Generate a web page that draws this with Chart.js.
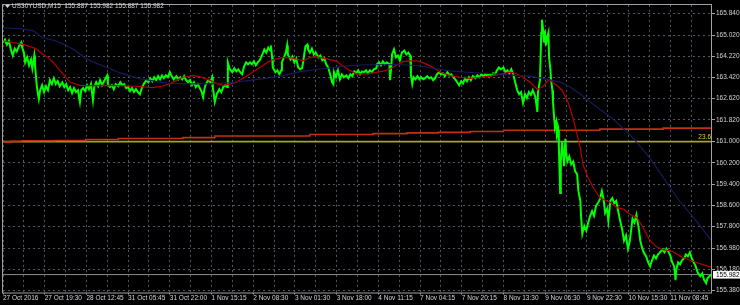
<!DOCTYPE html>
<html><head><meta charset="utf-8">
<style>html,body{margin:0;padding:0;background:#000;}#wrap{width:740px;height:305px;}</style>
<script src="https://cdn.jsdelivr.net/npm/chart.js@4.4.0/dist/chart.umd.min.js"></script>
</head><body><div id="wrap"><canvas id="c" width="740" height="305"></canvas></div>
<script>
// ---- data ----
const symbolTitle = 'US30YUSD,M15';
const ohlcText = '155.887 155.982 155.887 155.982';
const timeLabels = ['27 Oct 2016','27 Oct 19:30','28 Oct 12:45','31 Oct 05:45','31 Oct 22:00','1 Nov 15:15','2 Nov 08:30','3 Nov 01:30','3 Nov 18:00','4 Nov 11:15','7 Nov 04:15','7 Nov 20:15','8 Nov 13:30','9 Nov 06:30','9 Nov 22:30','10 Nov 15:30','11 Nov 08:45'];
const barsPerLabel = 64;
const barsPerGrid = 32;
const totalBars = 1088;
const priceTicks = [165.84,165.02,164.22,163.42,162.62,161.82,161.00,160.20,159.40,158.60,157.80,156.98,156.18,155.38];
const priceMin = 155.305, priceMax = 166.16;
const lastPrice = 155.982;
const fibLevel = 161.0;
const fibLabel = '23.6';

// close prices [bar, price]
const closeSeries = [
[0,164.74],[3,164.85],[6,164.66],[9,164.81],[12,164.48],[15,164.25],[18,164.51],[21,164.40],[25,164.63],[28,164.74],
[29,164.59],[32,164.36],[34,163.99],[37,164.18],[40,163.88],[43,164.10],[45,163.77],[48,164.25],[49,163.92],[52,163.06],
[55,162.61],[57,162.94],[60,163.13],[63,162.87],[66,163.09],[69,162.94],[72,163.32],[75,163.17],[78,163.39],[81,163.17],
[84,163.28],[87,163.09],[91,163.24],[94,163.06],[97,163.17],[100,162.94],[103,163.06],[106,162.83],[109,163.02],[112,162.87],
[115,162.94],[118,162.50],[120,162.94],[123,163.02],[126,162.91],[129,163.13],[132,162.98],[135,163.17],[138,162.57],[140,163.06],
[143,163.24],[146,163.09],[149,163.32],[152,163.13],[155,163.28],[160,163.50],[161,163.17],[164,163.06],[167,163.13],[170,162.98],
[173,163.17],[177,163.09],[180,163.24],[183,163.13],[186,163.17],[189,163.02],[192,163.06],[195,162.91],[198,163.02],[201,162.87],
[204,162.98],[207,162.87],[210,162.79],[213,163.02],[216,163.17],[220,163.32],[223,163.24],[226,163.39],[229,163.28],[232,163.43],
[235,163.32],[238,163.47],[241,163.35],[244,163.50],[247,163.39],[250,163.50],[253,163.43],[256,163.62],[259,163.47],[262,163.35],
[266,163.47],[269,163.35],[272,163.43],[275,163.35],[278,163.47],[281,163.32],[284,163.24],[287,163.32],[290,163.13],[293,163.24],
[296,163.06],[299,163.17],[302,163.02],[305,162.87],[307,162.68],[310,163.09],[313,163.24],[315,163.32],[318,163.24],[321,163.43],
[322,163.06],[325,162.50],[328,162.79],[332,162.98],[335,162.87],[338,163.06],[341,163.13],[344,163.06],[345,163.99],[348,163.73],
[352,163.62],[355,163.77],[358,163.65],[361,163.73],[364,163.62],[367,163.54],[370,163.84],[373,163.99],[376,163.92],[379,163.99],
[382,163.92],[385,164.03],[388,163.88],[391,163.99],[394,164.07],[398,164.29],[401,164.48],[404,164.36],[407,164.55],[410,164.44],
[411,164.63],[413,164.18],[414,163.80],[418,163.62],[421,163.69],[424,163.54],[427,163.69],[428,163.99],[431,164.18],[434,164.36],
[436,164.63],[437,164.29],[441,164.10],[444,164.21],[447,163.99],[450,164.14],[453,163.80],[456,163.73],[459,163.77],[461,164.07],
[464,164.59],[467,164.66],[468,164.48],[471,164.36],[474,164.51],[477,164.29],[480,164.36],[484,164.18],[487,164.25],[490,164.07],
[493,164.14],[496,163.92],[499,163.80],[502,163.54],[505,163.24],[507,163.17],[508,163.62],[511,163.43],[514,163.69],[517,163.35],
[520,163.54],[523,163.43],[527,163.50],[530,163.39],[533,163.54],[536,163.47],[539,163.65],[542,163.58],[545,163.69],[548,163.54],
[551,163.65],[554,163.62],[557,163.69],[560,163.58],[563,163.69],[566,163.62],[569,163.73],[573,163.77],[574,163.92],[577,163.99],
[580,163.88],[583,164.03],[586,163.92],[589,163.99],[593,163.92],[594,163.32],[596,163.88],[597,164.29],[600,164.48],[603,164.18],
[606,164.25],[609,164.07],[612,164.36],[616,164.44],[619,164.29],[622,164.36],[625,164.25],[626,163.50],[628,163.17],[630,163.43],
[633,163.35],[636,163.47],[639,163.35],[642,163.43],[645,163.35],[648,163.39],[651,163.47],[654,163.39],[657,163.43],[660,163.32],
[663,163.39],[666,163.54],[669,163.62],[672,163.54],[675,163.58],[678,163.47],[682,163.62],[685,163.50],[688,163.54],[691,163.43],
[694,163.35],[697,163.24],[700,163.13],[703,163.28],[706,163.20],[709,163.39],[712,163.28],[715,163.43],[718,163.32],[721,163.47],
[725,163.39],[728,163.50],[731,163.43],[734,163.54],[737,163.47],[740,163.54],[743,163.50],[746,163.54],[749,163.50],[752,163.58],
[755,163.54],[758,163.69],[761,163.80],[764,163.73],[768,163.80],[771,163.62],[774,163.69],[777,163.58],[780,163.73],[783,163.54],
[786,163.24],[789,162.94],[792,162.79],[795,162.87],[798,162.46],[801,162.79],[804,162.64],[807,162.87],[810,162.76],[813,162.94],
[817,162.68],[820,162.12],[821,162.87],[824,163.32],[826,165.11],[827,165.60],[829,165.19],[830,164.74],[832,165.00],[833,164.63],
[835,164.92],[837,165.11],[838,164.18],[840,163.73],[841,163.35],[843,162.94],[844,162.50],[846,161.82],[847,161.56],[849,161.75],
[850,161.26],[852,161.45],[853,160.81],[855,159.06],[856,160.25],[858,161.00],[860,160.44],[861,160.07],[863,161.11],[864,160.63],
[866,160.25],[869,160.44],[872,160.14],[875,160.25],[878,159.88],[881,159.77],[883,159.13],[886,158.76],[887,158.20],[889,157.52],
[892,157.82],[895,157.64],[898,157.94],[901,158.20],[904,158.38],[907,158.20],[910,158.57],[913,158.68],[916,158.83],[919,159.13],
[922,158.76],[924,158.31],[927,158.46],[929,158.01],[932,158.76],[935,158.87],[938,158.68],[941,158.76],[944,158.38],[947,158.01],
[950,157.71],[953,157.26],[956,157.45],[959,156.96],[962,157.26],[966,158.09],[969,157.94],[972,158.24],[975,157.82],[978,157.26],
[981,156.96],[984,156.78],[987,156.67],[990,156.44],[993,156.29],[996,156.52],[999,156.70],[1002,156.59],[1005,156.74],[1008,156.82],
[1012,156.93],[1015,156.82],[1018,156.96],[1021,156.85],[1024,156.70],[1027,156.44],[1030,156.29],[1032,155.77],[1033,156.14],[1036,156.44],
[1039,156.37],[1042,156.52],[1045,156.59],[1048,156.74],[1051,156.67],[1054,156.82],[1057,156.59],[1060,156.44],[1063,156.29],[1066,156.07],
[1070,155.92],[1073,156.03],[1076,155.77],[1079,155.66],[1081,155.84],[1084,155.92],[1087,155.98]
];

// red moving average [bar, price]
const fastMA = [
[0,164.80],[15,164.74],[31,164.67],[41,164.59],[51,164.49],[61,164.30],[69,164.18],[77,163.99],[87,163.69],[95,163.47],
[103,163.24],[118,163.12],[134,163.11],[154,163.12],[180,163.11],[204,163.09],[230,163.04],[244,163.09],[256,163.18],[267,163.32],
[276,163.43],[292,163.49],[302,163.45],[318,163.31],[330,163.17],[338,163.12],[348,163.17],[358,163.24],[371,163.43],[379,163.55],
[390,163.73],[399,163.87],[407,164.01],[414,164.09],[430,164.18],[445,164.15],[453,164.10],[460,164.05],[467,164.12],[471,164.18],
[482,164.20],[497,164.12],[513,164.02],[520,163.88],[528,163.74],[536,163.64],[543,163.55],[559,163.56],[574,163.62],[585,163.67],
[594,163.74],[605,163.90],[614,164.02],[625,164.05],[635,164.05],[645,163.97],[655,163.87],[663,163.75],[671,163.62],[686,163.49],
[701,163.43],[717,163.39],[732,163.43],[748,163.47],[763,163.55],[778,163.62],[786,163.58],[798,163.43],[809,163.24],[820,162.97],
[829,163.09],[838,163.34],[850,163.12],[858,162.93],[867,162.50],[875,161.87],[881,161.26],[886,160.75],[890,160.14],[898,159.63],
[906,159.26],[916,158.88],[932,158.70],[942,158.51],[952,158.45],[962,158.26],[973,158.13],[982,157.76],[993,157.26],[1004,157.01],
[1013,156.92],[1027,156.86],[1042,156.64],[1055,156.52],[1070,156.39],[1087,156.26]
];

// dark blue moving average [bar, price]
const slowMA = [
[0,165.30],[26,165.26],[46,165.19],[61,164.92],[80,164.81],[95,164.66],[111,164.44],[127,164.14],[144,163.95],[160,163.80],
[177,163.62],[192,163.50],[209,163.37],[224,163.32],[241,163.24],[256,163.20],[287,163.18],[319,163.18],[348,163.22],[379,163.31],
[405,163.39],[430,163.49],[456,163.64],[482,163.72],[507,163.80],[533,163.87],[559,163.90],[583,163.90],[609,163.90],[635,163.87],
[660,163.77],[686,163.67],[712,163.62],[737,163.58],[763,163.54],[786,163.50],[809,163.47],[840,163.33],[855,163.24],[870,163.06],
[886,162.79],[901,162.50],[916,162.21],[932,161.94],[947,161.60],[962,161.26],[978,160.81],[993,160.37],[1008,159.84],[1024,159.25],
[1039,158.72],[1055,158.27],[1070,157.82],[1087,157.26]
];

// very long moving average (stepped) [bar, price]
const longMA = [
[0,160.96],[11,160.99],[28,161.01],[80,161.03],[127,161.04],[177,161.08],[276,161.12],[325,161.15],[471,161.21],[568,161.27],
[620,161.30],[668,161.33],[717,161.35],[768,161.38],[916,161.43],[1013,161.47],[1065,161.51],[1088,161.51]
];

// ---- chart ----
const toXY = arr => arr.map(p => ({x: p[0], y: p[1]}));
const axisFont = {family: 'Liberation Sans', size: 6.5};
const textColor = '#d4d4d4';
const gridColor = '#4e5966';

const overlay = {
  id: 'overlay',
  afterDraw(chart) {
    const {ctx, chartArea: a, scales: {x, y}} = chart;
    ctx.save();
    // frame
    ctx.strokeStyle = '#a0a0a0';
    ctx.lineWidth = 1;
    ctx.strokeRect(Math.round(a.left) - 0.5, Math.round(a.top) - 0.5, Math.round(a.right - a.left), Math.round(a.bottom - a.top) + 0.5);
    // title
    ctx.fillStyle = textColor;
    ctx.beginPath();
    ctx.moveTo(5, 5); ctx.lineTo(10, 5); ctx.lineTo(7.5, 8); ctx.closePath(); ctx.fill();
    ctx.font = '6.5px "Liberation Sans"';
    ctx.textBaseline = 'middle';
    ctx.textAlign = 'left';
    ctx.fillText(symbolTitle + '  ' + ohlcText, 12, 6.5);
    // fib label
    const fy = y.getPixelForValue(fibLevel);
    ctx.fillStyle = '#d8d820';
    ctx.textAlign = 'right';
    ctx.textBaseline = 'alphabetic';
    ctx.fillText(fibLabel, a.right - 1, fy - 2.5);
    // current price box
    const py = y.getPixelForValue(lastPrice);
    ctx.fillStyle = '#ffffff';
    ctx.fillRect(a.right + 1, py - 3.5, chart.width - a.right - 1, 7.5);
    ctx.fillStyle = '#000000';
    ctx.textAlign = 'left';
    ctx.textBaseline = 'middle';
    ctx.fillText(lastPrice.toFixed(3), a.right + 4, py + 0.5);
    ctx.restore();
  }
};

new Chart(document.getElementById('c'), {
  type: 'line',
  data: {
    datasets: [
      {label: 'MA slow', data: toXY(slowMA), borderColor: '#181c60', borderWidth: 1.1, order: 1},
      {label: 'MA fast', data: toXY(fastMA), borderColor: '#b80000', borderWidth: 1.2, order: 2},
      {label: 'Close', data: toXY(closeSeries), borderColor: '#00ff00', borderWidth: 2, order: 3},
      {label: 'Bid', data: [{x: 0, y: lastPrice}, {x: totalBars, y: lastPrice}], borderColor: '#8a8a8a', borderWidth: 1, order: 4},
      {label: 'MA long', data: toXY(longMA), stepped: 'after', borderColor: '#c03212', borderWidth: 1.6, order: 5},
      {label: 'Fibo 23.6', data: [{x: 0, y: fibLevel}, {x: totalBars, y: fibLevel}], borderColor: '#a4a41e', borderWidth: 1.6, order: 6}
    ]
  },
  options: {
    responsive: false, animation: false, devicePixelRatio: 1,
    layout: {padding: {left: 3, top: 2, right: 0, bottom: 0}},
    plugins: {legend: {display: false}, tooltip: {enabled: false}},
    elements: {point: {radius: 0}, line: {tension: 0}},
    scales: {
      x: {
        type: 'linear', min: 0, max: totalBars,
        afterBuildTicks: s => { const t = []; for (let b = 0; b < totalBars; b += barsPerGrid) t.push({value: b}); s.ticks = t; },
        afterFit: s => { s.height = 12.5; },
        ticks: {
          autoSkip: false, maxRotation: 0, minRotation: 0, align: 'start', padding: 0,
          color: textColor, font: axisFont,
          callback: v => (v % barsPerLabel === 0 ? timeLabels[v / barsPerLabel] : '')
        },
        grid: {color: gridColor, lineWidth: 1, drawTicks: true, tickLength: 2,
               tickColor: c => (c.tick && c.tick.value % barsPerLabel === 0 ? '#a0a0a0' : 'rgba(0,0,0,0)')},
        border: {display: false, dash: [2, 3]}
      },
      y: {
        position: 'right', min: priceMin, max: priceMax,
        afterBuildTicks: s => { s.ticks = priceTicks.map(v => ({value: v})); },
        afterFit: s => { s.width = 28; },
        ticks: {color: textColor, font: axisFont, padding: 1, callback: v => Number(v).toFixed(3)},
        grid: {color: gridColor, lineWidth: 1, drawTicks: true, tickLength: 3, tickColor: '#a0a0a0'},
        border: {display: false, dash: [2, 3]}
      }
    }
  },
  plugins: [overlay]
});
</script>
</body></html>
